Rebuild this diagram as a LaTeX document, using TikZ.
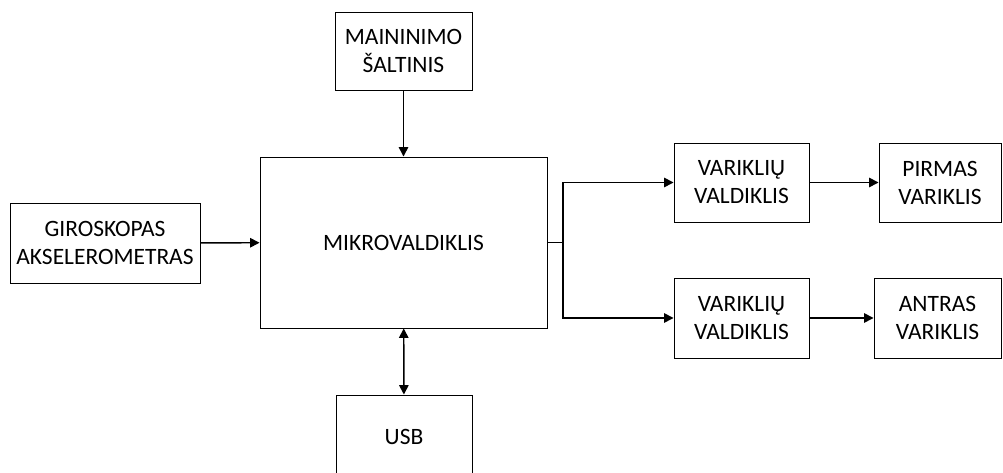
\documentclass[tikz,border=0pt]{standalone}
\usepackage{fontspec}
\setmainfont{Carlito}
\usetikzlibrary{arrows.meta,positioning}

\begin{document}
\begin{tikzpicture}[x=0.75pt,y=-0.75pt,>={Triangle[length=7pt,width=7pt]},
  font=\fontsize{17.6}{21}\selectfont,
  blk/.style={draw,line width=0.7pt,align=center,inner sep=0pt},
  conn/.style={line width=1.1pt}]
\useasboundingbox (0,0) rectangle (1003,473);
\clip (0,0) rectangle (1003,473);
\node[blk,minimum width=102.75pt,minimum height=58.5pt] (src) at (403.5,51) {MAININIMO\\ŠALTINIS};
\node[blk,minimum width=142.5pt,minimum height=60pt] (gyro) at (105,243) {GIROSKOPAS\\AKSELEROMETRAS};
\node[blk,minimum width=215.25pt,minimum height=128.25pt] (mcu) at (403.5,242.5) {MIKROVALDIKLIS};
\node[blk,minimum width=101.25pt,minimum height=59.25pt] (drv1) at (741.5,182.5) {VARIKLIŲ\\VALDIKLIS};
\node[blk,minimum width=91.5pt,minimum height=59.25pt] (mot1) at (940,182.5) {PIRMAS\\VARIKLIS};
\node[blk,minimum width=101.25pt,minimum height=60pt] (drv2) at (741.5,318) {VARIKLIŲ\\VALDIKLIS};
\node[blk,minimum width=95.25pt,minimum height=60pt] (mot2) at (937.5,318) {ANTRAS\\VARIKLIS};
\node[blk,minimum width=102pt,minimum height=63pt] (usb) at (404,437) {USB};
\coordinate (split) at (563,242.5);
% jungtys
\draw[conn,->] (src) -- (mcu);
\draw[conn,->] (gyro) -- (mcu);
\draw[conn] (mcu.east) -- (split);
\draw[conn,->] (split) |- (drv1.west);
\draw[conn,->] (split) |- (drv2.west);
\draw[conn,->] (drv1) -- (mot1);
\draw[conn,->] (drv2) -- (mot2);
\draw[conn,<->] (mcu) -- (usb);
\end{tikzpicture}
\end{document}
